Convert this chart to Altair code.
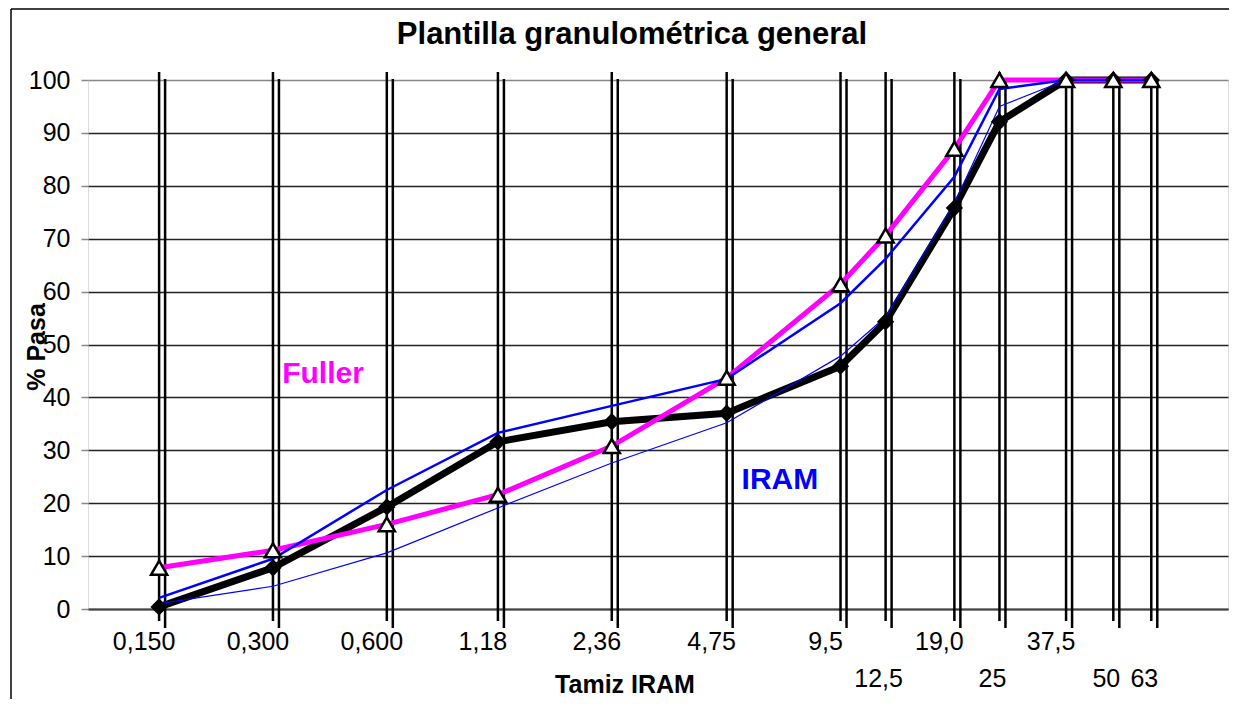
import altair as alt
import pandas as pd

# Sieve sizes (mm) and % passing
tamiz = [0.150, 0.300, 0.600, 1.18, 2.36, 4.75, 9.5, 12.5, 19.0, 25, 37.5, 50, 63]
fuller = [7.8, 11.1, 16.0, 21.6, 30.8, 43.7, 61.4, 70.6, 87.0, 100, 100, 100, 100]
muestra = [0.4, 7.8, 19.3, 31.6, 35.4, 37.0, 45.9, 54.3, 75.8, 92.1, 100, 100, 100]
iram_sup = [2.1, 9.5, 22.5, 33.3, 38.4, 43.5, 57.8, 66.2, 81.7, 98.3, 100, 100, 100]
iram_inf = [1.0, 4.3, 10.6, 19.1, 27.6, 35.2, 47.8, 55.2, 76.7, 95.0, 100, 100, 100]

# Axis tick labels (two rows)
row1_labels = ["0,150", "0,300", "0,600", "1,18", "2,36", "4,75", "9,5", "19,0", "37,5"]
row1_values = [0.150, 0.300, 0.600, 1.18, 2.36, 4.75, 9.5, 19.0, 37.5]
row2_labels = ["12,5", "25", "50", "63"]
row2_values = [12.5, 25, 50, 63]
y_ticks = list(range(0, 101, 10))

FONT = "Liberation Sans"

df = pd.DataFrame({
    "tamiz": tamiz,
    "fuller": fuller,
    "muestra": muestra,
    "sup": iram_sup,
    "inf": iram_inf,
})
r1 = pd.DataFrame({"lab": row1_labels, "v": row1_values})
r2 = pd.DataFrame({"lab": row2_labels, "v": row2_values})
one = pd.DataFrame({"a": [0]})

xscale = alt.Scale(type="log", domain=[0.0973, 100.5])
yscale = alt.Scale(domain=[0, 100])

xaxis = alt.Axis(labels=False, ticks=False, grid=False, title=None,
                 domainColor="#444", domainWidth=2)
yaxis = alt.Axis(values=y_ticks, grid=True,
                 gridColor={"condition": {"test": "datum.value === 100", "value": "#888"}, "value": "#222"},
                 gridWidth=1.5, domain=False, tickColor="#888", tickSize=7, tickWidth=1.5,
                 labelFontSize=25, labelColor="black", labelPadding=11, labelFont=FONT,
                 title=None)


def X(field="tamiz"):
    return alt.X(f"{field}:Q", scale=xscale, axis=xaxis, title=None)


def Y(field):
    return alt.Y(f"{field}:Q", scale=yscale, axis=yaxis, title=None)


base = alt.Chart(df)

rules_a = base.mark_rule(color="black", strokeWidth=2.5).encode(
    x=X(), y=alt.value(-8), y2=alt.value(541))
rules_b = base.mark_rule(color="black", strokeWidth=2.5, xOffset=6).encode(
    x=X(), y=alt.value(-1), y2=alt.value(548))

line_m = base.mark_line(color="black", strokeWidth=7).encode(x=X(), y=Y("muestra"))
line_f = base.mark_line(color="#FF00FF", strokeWidth=5).encode(x=X(), y=Y("fuller"))
line_s = base.mark_line(color="#0000FF", strokeWidth=2.5).encode(x=X(), y=Y("sup"))
line_i = base.mark_line(color="#0000FF", strokeWidth=1.2).encode(x=X(), y=Y("inf"))

diamonds = base.mark_point(shape="diamond", filled=True, color="black", size=300, opacity=1).encode(
    x=X(), y=Y("muestra"))
triangles = base.mark_point(shape="triangle-up", filled=True, fill="white", stroke="black",
                            strokeWidth=2.5, size=260, opacity=1).encode(x=X(), y=Y("fuller"))

lab1 = alt.Chart(r1).mark_text(fontSize=25, font=FONT, color="black", align="center",
                               baseline="alphabetic", dx=-15).encode(
    x=X("v"), y=alt.value(570), text="lab:N")
lab2 = alt.Chart(r2).mark_text(fontSize=25, font=FONT, color="black", align="center",
                               baseline="alphabetic", dx=-7).encode(
    x=X("v"), y=alt.value(607), text="lab:N")

title = alt.Chart(one).mark_text(text="Plantilla granulométrica general", fontSize=31,
                                 fontWeight="bold", font=FONT, color="black",
                                 align="center", baseline="alphabetic").encode(
    x=alt.value(544), y=alt.value(-36))
xtitle = alt.Chart(one).mark_text(text="Tamiz IRAM", fontSize=25, fontWeight="bold", font=FONT,
                                  color="black", align="center", baseline="alphabetic").encode(
    x=alt.value(537), y=alt.value(613))
ytitle = alt.Chart(one).mark_text(text="% Pasa", fontSize=25, fontWeight="bold", font=FONT,
                                  color="black", align="center", baseline="middle", angle=270).encode(
    x=alt.value(-51), y=alt.value(267))

fuller_txt = alt.Chart(one).mark_text(text="Fuller", fontSize=30, fontWeight="bold", font=FONT,
                                      color="#FF00FF", align="center", baseline="middle").encode(
    x=alt.datum(0.407, scale=xscale, axis=xaxis), y=alt.datum(44.4, scale=yscale, axis=yaxis))
iram_txt = alt.Chart(one).mark_text(text="IRAM", fontSize=30, fontWeight="bold", font=FONT,
                                    color="#0000FF", align="center", baseline="middle").encode(
    x=alt.datum(6.57, scale=xscale, axis=xaxis), y=alt.datum(24.4, scale=yscale, axis=yaxis))

frame_v = alt.Chart(one).mark_rule(color="black", strokeWidth=1.5).encode(
    x=alt.value(-77), y=alt.value(-71), y2=alt.value(700))
frame_h = alt.Chart(one).mark_rule(color="black", strokeWidth=1.5).encode(
    x=alt.value(-77), x2=alt.value(1200), y=alt.value(-71))

chart = alt.layer(
    rules_a, rules_b, line_m, line_f, line_s, line_i, diamonds, triangles,
    lab1, lab2, title, xtitle, ytitle, fuller_txt, iram_txt, frame_v, frame_h
).properties(
    width=1140, height=529,
    padding={"left": 80, "top": 72, "right": 1, "bottom": 90},
    autosize=alt.AutoSizeParams(type="none"),
    background="white",
).configure_view(stroke="#888", strokeWidth=2).configure(font=FONT)

chart.save("out.html", embed_options={"renderer": "svg", "actions": False})
